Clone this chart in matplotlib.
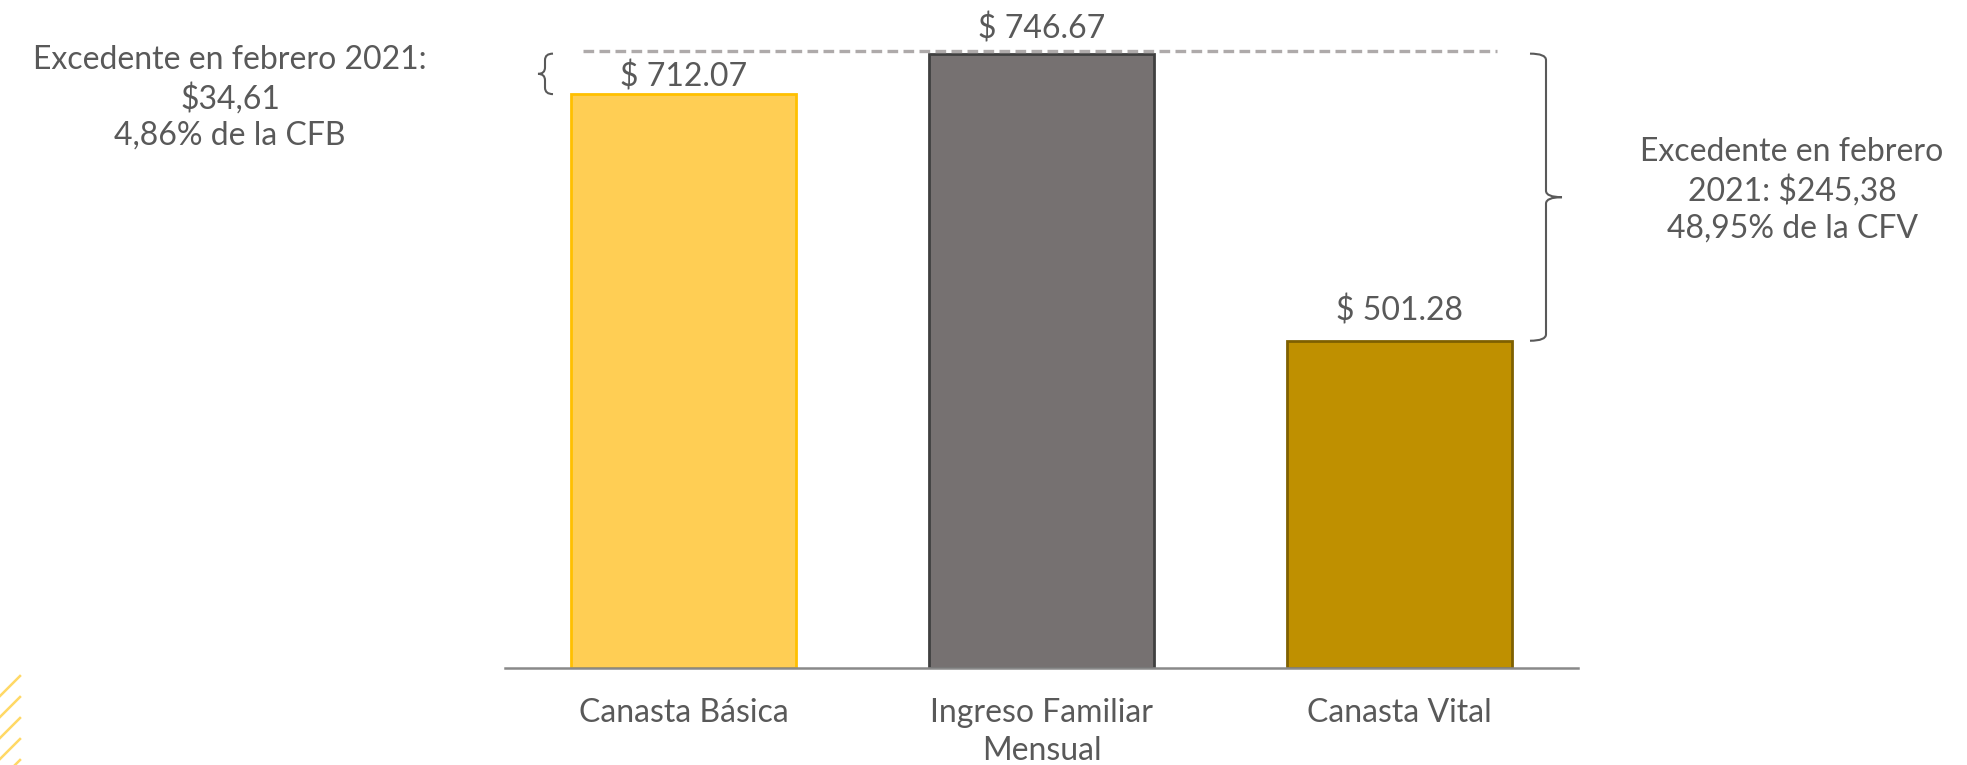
import matplotlib
matplotlib.use("Agg")
import matplotlib.pyplot as plt
import matplotlib.transforms as mtransforms
from matplotlib.path import Path
from matplotlib.patches import PathPatch
from matplotlib.lines import Line2D

# --- data ---
categories = ["Canasta Básica", "Ingreso Familiar\nMensual", "Canasta Vital"]
values = [712.07, 746.67, 501.28]
value_labels = ["$ 712.07", "$ 746.67", "$ 501.28"]
fill_colors = ["#FFCE54", "#767171", "#BF9000"]
edge_colors = ["#FFC000", "#404040", "#7F6000"]
note_left = "Excedente en febrero 2021:\n$34,61\n4,86% de la CFB"
note_right = "Excedente en febrero\n2021: $245,38\n48,95% de la CFV"

TXT = "#595959"
FS = 23
plt.rcParams["font.family"] = ["Lato", "DejaVu Sans"]

W, H = 1967, 765
fig = plt.figure(figsize=(W / 100, H / 100), dpi=100)

# axes placed in pixel terms of the reference
ax_l, ax_r, ax_b, ax_t = 505, 1578, 667.5, 20
ax = fig.add_axes([ax_l / W, (H - ax_b) / H, (ax_r - ax_l) / W, (ax_b - ax_t) / H])
ymin = 222
px_per_unit = 1.17
ax.set_ylim(ymin, ymin + (ax_b - ax_t) / px_per_unit)
ax.set_xlim(-0.5, 2.5)

x = range(len(categories))
ax.bar(x, [v - ymin for v in values], bottom=ymin, width=0.63,
       color=fill_colors, edgecolor=edge_colors, linewidth=2, zorder=2)

# label offsets (points above bar top)
for xi, v, lab, off in zip(x, values, value_labels, [12.5, 18, 21.5]):
    ax.annotate(lab, (xi, v), xytext=(0, off), textcoords="offset points",
                ha="center", va="center", fontsize=FS, color=TXT)

# dashed reference line at the income level
up = mtransforms.ScaledTranslation(0, 3 / 100, fig.dpi_scale_trans)
ax.plot([-0.282, 2.274], [values[1], values[1]], ls=(0, (3.2, 1.6)), lw=2.4,
        color="#AEAAAA", transform=ax.transData + up, zorder=3, clip_on=False)


def brace(ax, xv, xh, xt, y0, y1, r=5.5, lw=1.5):
    # curly brace from y0 (top) to y1 (bottom); hooks end at xh, tip at xt
    ym = (y0 + y1) / 2
    verts = [
        (xh, y0), (xv, y0), (xv, y0 - r),
        (xv, ym + r), (xv, ym), (xt, ym),
        (xv, ym), (xv, ym - r),
        (xv, y1 + r), (xv, y1), (xh, y1),
    ]
    codes = [Path.MOVETO, Path.CURVE3, Path.CURVE3,
             Path.LINETO, Path.CURVE3, Path.CURVE3,
             Path.CURVE3, Path.CURVE3,
             Path.LINETO, Path.CURVE3, Path.CURVE3]
    ax.add_patch(PathPatch(Path(verts, codes), fill=False, edgecolor=TXT,
                           lw=lw, clip_on=False, zorder=4))


def px2x(px):
    return (px - ax_l) / ((ax_r - ax_l) / 3) - 0.5


brace(ax, px2x(545), px2x(553), px2x(538), values[1], values[0])
brace(ax, px2x(1546), px2x(1530), px2x(1562), values[1], values[2])

fig.text(230 / W, 1 - 98 / H, note_left, ha="center", va="center",
         fontsize=FS, color=TXT, linespacing=1.28)
fig.text(1792 / W, 1 - 190 / H, note_right, ha="center", va="center",
         fontsize=FS, color=TXT, linespacing=1.3)

ax.set_xticks(list(x))
ax.set_xticklabels(categories, fontsize=FS, color=TXT, linespacing=1.35)
ax.tick_params(axis="x", length=0, pad=22)
ax.set_yticks([])
for s in ["top", "right", "left"]:
    ax.spines[s].set_visible(False)
ax.spines["bottom"].set_color("#898989")
ax.spines["bottom"].set_linewidth(1.8)

# decorative yellow stripes, bottom-left corner
for y_end in [676, 697, 718, 739, 760]:
    fig.add_artist(Line2D([0, 20 / W], [1 - (y_end + 20) / H, 1 - y_end / H],
                          color="#FFD966", lw=1.8, transform=fig.transFigure))

fig.savefig("out.png", dpi=100)
